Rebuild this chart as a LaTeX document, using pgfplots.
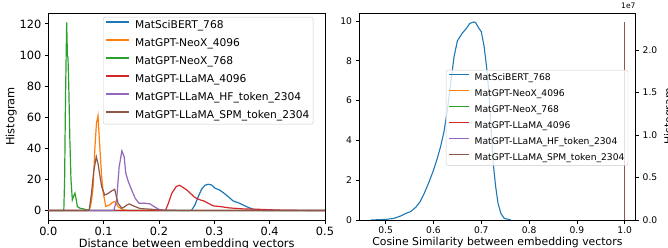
\documentclass[border=0pt]{standalone}
\usepackage{pgfplots}
\pgfplotsset{compat=1.18}
\usepackage{fontspec}
\setmainfont{DejaVu Sans}
\definecolor{c0}{HTML}{1F77B4}
\definecolor{c1}{HTML}{FF7F0E}
\definecolor{c2}{HTML}{2CA02C}
\definecolor{c3}{HTML}{D62728}
\definecolor{c4}{HTML}{9467BD}
\definecolor{c5}{HTML}{8C564B}
\newcommand{\fL}{\fontsize{10.7}{12.8}\selectfont}
\newcommand{\fLt}{\fontsize{11.4}{13.6}\selectfont}
\newcommand{\fR}{\fontsize{9.2}{11}\selectfont}
\newcommand{\fRl}{\fontsize{10.9}{13}\selectfont}
\newcommand{\fRs}{\fontsize{7.6}{9}\selectfont}
\pgfplotsset{
  mpl/.style={
    scale only axis, anchor=south west,
    tick align=outside, major tick length=3.5bp,
    axis line style={line width=0.8bp},
    every tick/.style={line width=0.8bp, black},
    /pgf/number format/assume math mode=true,
    legend cell align=left,
    legend style={draw=black!20, rounded corners=2pt, fill=white, fill opacity=0.8, text opacity=1,
      inner xsep=2.5bp, inner ysep=2bp, column sep=4bp},
  }
}
\begin{document}
\begin{tikzpicture}
\begin{axis}[mpl,
  at={(48.3bp,28bp)}, width=276.7bp, height=207bp,
  xmin=0, xmax=0.5, ymin=-6.05, ymax=127,
  xtick={0,0.1,0.2,0.3,0.4,0.5}, ytick={0,20,40,60,80,100,120},
  xticklabel style={/pgf/number format/.cd, fixed, fixed zerofill, precision=1},
  xtick pos=bottom, ytick pos=left,
  font=\fLt, tick label style={font=\fLt},
  xlabel={Distance between embedding vectors}, ylabel={Histogram},
  xlabel style={font=\fLt, yshift=4bp}, ylabel style={font=\fLt, yshift=-4bp},
  legend style={at={(0.198,0.981)}, anchor=north west, font=\fL,
    row sep=5bp, nodes={inner sep=1.2bp, text height=8bp, text depth=2.6bp}},
  legend image code/.code={\draw[line width=1.2bp,#1] (0bp,3.6bp) -- (23bp,3.6bp);},
  every axis plot/.append style={line width=1.2bp},
]
\addplot[c0] coordinates {(0,0) (0.255,0) (0.259,0.3) (0.265,3.6) (0.271,9) (0.277,13.7) (0.283,16.3) (0.289,16.9) (0.295,16.5) (0.301,14.4) (0.309,13.3) (0.316,11.6) (0.325,9) (0.334,6.2) (0.343,5.1) (0.352,3.6) (0.361,2.1) (0.37,0.9) (0.38,0.3) (0.39,0.05) (0.5,0)};
\addlegendentry{MatSciBERT\_768}
\addplot[c1] coordinates {(0,0) (0.072,0) (0.075,1.5) (0.078,6) (0.081,15) (0.084,39) (0.087,56) (0.0898,61) (0.0934,39) (0.0964,22) (0.0994,11) (0.104,2.6) (0.111,3.6) (0.116,5.3) (0.12,5.8) (0.126,2.6) (0.133,0.9) (0.14,0.2) (0.15,0) (0.5,0)};
\addlegendentry{MatGPT-NeoX\_4096}
\addplot[c2] coordinates {(0,0) (0.028,0) (0.0295,20) (0.031,70) (0.0332,121) (0.0345,100) (0.0356,98) (0.037,80) (0.039,45) (0.041,20) (0.0434,6.9) (0.0455,9) (0.0482,11.2) (0.0505,7) (0.0525,2.6) (0.0573,1.5) (0.062,1.2) (0.066,0.8) (0.075,0) (0.5,0)};
\addlegendentry{MatGPT-NeoX\_768}
\addplot[c3] coordinates {(0,0) (0.21,0) (0.212,0.3) (0.217,4.7) (0.223,11) (0.231,15.4) (0.237,16.3) (0.243,15) (0.25,13.3) (0.257,11) (0.265,8.4) (0.274,6.9) (0.281,6.2) (0.289,4.7) (0.298,3) (0.31,2.6) (0.328,1.7) (0.352,1.1) (0.376,0.9) (0.395,0.6) (0.42,0.3) (0.45,0.15) (0.5,0.05)};
\addlegendentry{MatGPT-LLaMA\_4096}
\addplot[c4] coordinates {(0,0) (0.117,0) (0.1187,0.5) (0.1235,6.9) (0.128,28) (0.133,38.4) (0.137,34.7) (0.14,24) (0.1446,18.6) (0.1506,13.3) (0.157,7.9) (0.164,4.7) (0.175,4.7) (0.184,4.3) (0.191,2.6) (0.199,0.9) (0.208,0.2) (0.215,0) (0.5,0)};
\addlegendentry{MatGPT-LLaMA\_HF\_token\_2304}
\addplot[c5] coordinates {(0,0) (0.072,0) (0.074,0.5) (0.078,11) (0.082,25) (0.0867,34.7) (0.09,30) (0.0934,22) (0.0964,15.4) (0.102,10) (0.108,11) (0.114,12.5) (0.12,13.7) (0.123,9) (0.126,4.7) (0.133,1.5) (0.138,2.5) (0.142,3.6) (0.146,4.3) (0.154,3) (0.166,1.3) (0.184,0.9) (0.2,0.4) (0.22,0.2) (0.25,0.05) (0.5,0)};
\addlegendentry{MatGPT-LLaMA\_SPM\_token\_2304}
\end{axis}

\begin{axis}[mpl,
  at={(359bp,28bp)}, width=276.7bp, height=207bp,
  xmin=0.4442, xmax=1.023, ymin=0, ymax=10.4,
  xtick={0.5,0.6,0.7,0.8,0.9,1.0}, ytick={0,2,4,6,8,10},
  xticklabel style={/pgf/number format/.cd, fixed, fixed zerofill, precision=1},
  xtick pos=bottom, ytick pos=left,
  font=\fR, tick label style={font=\fR},
  xlabel={Cosine Similarity between embedding vectors},
  xlabel style={font=\fRl, yshift=4bp},
  every axis plot/.append style={line width=1.1bp},
]
\addplot[c0] coordinates {(0.469,0) (0.5,0.03) (0.517,0.08) (0.531,0.2) (0.542,0.33) (0.552,0.42) (0.563,0.64) (0.572,0.92) (0.58,1.3) (0.591,1.93) (0.6,2.5) (0.608,3.1) (0.615,3.7) (0.622,4.44) (0.629,5.53) (0.636,6.87) (0.643,8.2) (0.65,9.0) (0.66,9.38) (0.669,9.63) (0.676,9.88) (0.685,9.95) (0.688,9.92) (0.695,9.63) (0.7,9.46) (0.706,8.71) (0.711,7.7) (0.716,6.37) (0.72,4.8) (0.725,2.85) (0.73,1.68) (0.735,0.84) (0.741,0.33) (0.748,0.08) (0.762,0)};
\end{axis}

\begin{axis}[mpl, name=R2,
  at={(359bp,28bp)}, width=276.7bp, height=207bp,
  xmin=0.4442, xmax=1.023, ymin=0, ymax=2.435,
  axis x line=none, axis y line*=right,
  ytick={0,0.5,1.0,1.5,2.0},
  yticklabel style={/pgf/number format/.cd, fixed, fixed zerofill, precision=1},
  font=\fR, tick label style={font=\fR},
  ylabel={Histogram}, ylabel style={font=\fRl},
  legend style={at={(0.314,0.725)}, anchor=north west, font=\fR,
    row sep=4.8bp, nodes={inner sep=1bp, text height=7bp, text depth=2.2bp}},
  legend image code/.code={\draw[line width=1.1bp,#1] (0bp,3.1bp) -- (20bp,3.1bp);},
  every axis plot/.append style={line width=1.1bp},
]
\addlegendimage{c0}
\addlegendentry{MatSciBERT\_768}
\addplot[c1] coordinates {(1.0,0) (1.0,2.33)};
\addlegendentry{MatGPT-NeoX\_4096}
\addplot[c2] coordinates {(1.0,0) (1.0,2.33)};
\addlegendentry{MatGPT-NeoX\_768}
\addplot[c3] coordinates {(1.0,0) (1.0,2.33)};
\addlegendentry{MatGPT-LLaMA\_4096}
\addplot[c4] coordinates {(1.0,0) (1.0,2.33)};
\addlegendentry{MatGPT-LLaMA\_HF\_token\_2304}
\addplot[c5] coordinates {(1.0,0) (1.0,2.33)};
\addlegendentry{MatGPT-LLaMA\_SPM\_token\_2304}
\end{axis}
\node[anchor=south east, font=\fRs, inner sep=0pt] at ([yshift=4bp]R2.north east) {1e7};
\pgfresetboundingbox
\path[use as bounding box] (0,0) rectangle (668bp,248bp);
\end{tikzpicture}
\end{document}
